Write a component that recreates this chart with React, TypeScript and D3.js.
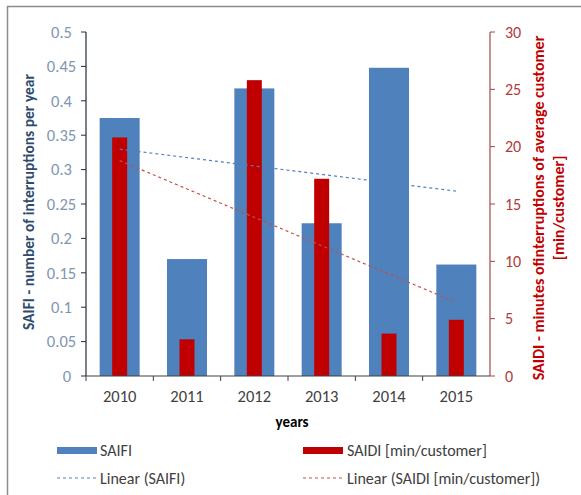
import React from "react";
import * as d3 from "d3";

const years = ["2010", "2011", "2012", "2013", "2014", "2015"];
const saifi = [0.375, 0.17, 0.418, 0.222, 0.448, 0.162];
const saidi = [20.8, 3.2, 25.8, 17.2, 3.7, 4.9];
const leftTicks = [0, 0.05, 0.1, 0.15, 0.2, 0.25, 0.3, 0.35, 0.4, 0.45, 0.5];
const rightTicks = [0, 5, 10, 15, 20, 25, 30];

const W = 581, H = 495;
const FONT = "Carlito, Calibri, Lato, 'Open Sans', sans-serif";

function linReg(vals: number[]) {
  const n = vals.length;
  const xs = vals.map((_, i) => i + 1);
  const mx = d3.mean(xs)!;
  const my = d3.mean(vals)!;
  let sxy = 0, sxx = 0;
  vals.forEach((v, i) => { sxy += (xs[i] - mx) * (v - my); sxx += (xs[i] - mx) ** 2; });
  const b = sxy / sxx;
  const a = my - b * mx;
  return [a + b * 1, a + b * n];
}

export default function App() {
  const x0 = 86, x1 = 490, yTop = 32, yBot = 376;
  const x = d3.scaleBand<string>().domain(years).range([x0, x1]);
  const yL = d3.scaleLinear().domain([0, 0.5]).range([yBot, yTop]);
  const yR = d3.scaleLinear().domain([0, 30]).range([yBot, yTop]);
  const bw = x.bandwidth();
  const cx = (y: string) => x(y)! + bw / 2;
  const blueW = 40, redW = 15;
  const tS = linReg(saifi);
  const tD = linReg(saidi);
  const xs = cx(years[0]), xe = cx(years[years.length - 1]);

  return (
    <svg width={W} height={H} style={{ position: "absolute", left: 0, top: 0, background: "#fff" }} fontFamily={FONT}>
      <rect x={0} y={0} width={W} height={H} fill="#fff" />
      <line x1={7} y1={6.5} x2={W} y2={6.5} stroke="#8c8c8c" strokeWidth={1.5} />
      <line x1={7.5} y1={6} x2={7.5} y2={H} stroke="#8c8c8c" strokeWidth={1.5} />

      {/* bars */}
      {years.map((yr, i) => (
        <rect key={"b" + yr} x={cx(yr) - blueW / 2} y={yL(saifi[i])} width={blueW} height={yBot - yL(saifi[i])} fill="#4F81BD" />
      ))}
      {years.map((yr, i) => (
        <rect key={"r" + yr} x={cx(yr) - redW / 2} y={yR(saidi[i])} width={redW} height={yBot - yR(saidi[i])} fill="#C00000" />
      ))}

      {/* trendlines */}
      <line x1={xs} y1={yL(tS[0])} x2={xe} y2={yL(tS[1])} stroke="#4F81BD" strokeWidth={1.2} strokeDasharray="3,3" />
      <line x1={xs} y1={yR(tD[0])} x2={xe} y2={yR(tD[1])} stroke="#C0504D" strokeWidth={1.2} strokeDasharray="3,3" />

      {/* left axis */}
      <line x1={x0} y1={yTop} x2={x0} y2={yBot} stroke="#1f2d3d" strokeWidth={1.2} />
      {leftTicks.map((t) => (
        <g key={"lt" + t}>
          <line x1={x0 - 5} x2={x0} y1={yL(t)} y2={yL(t)} stroke="#1f2d3d" />
          <text x={t === 0 ? 67 : 61.5} y={yL(t)} dy="0.35em" textAnchor="middle" fontSize={16.5} fill="#7F96B2">{String(t)}</text>
        </g>
      ))}

      {/* right axis */}
      <line x1={x1} y1={yTop} x2={x1} y2={yBot} stroke="#A04848" strokeWidth={1.2} />
      {rightTicks.map((t) => (
        <g key={"rt" + t}>
          <line x1={x1} x2={x1 + 5} y1={yR(t)} y2={yR(t)} stroke="#A04848" />
          <text x={505} y={yR(t)} dy="0.35em" textAnchor="start" fontSize={16} fill="#B23A3A">{String(t)}</text>
        </g>
      ))}

      {/* x axis */}
      <line x1={x0} y1={yBot} x2={x1} y2={yBot} stroke="#404040" strokeWidth={1.2} />
      {years.map((yr, i) => (
        <line key={"xt" + yr} x1={x0 + bw * i} x2={x0 + bw * i} y1={yBot} y2={yBot + 5} stroke="#404040" />
      ))}
      {years.map((yr) => (
        <text key={"xl" + yr} x={cx(yr)} y={396} dy="0.35em" textAnchor="middle" fontSize={16.5} fill="#404040">{yr}</text>
      ))}

      {/* axis titles */}
      <text x={292} y={422} dy="0.35em" textAnchor="middle" fontSize={15} fontWeight="bold" fill="#000">years</text>
      <text transform="translate(29,202) rotate(-90)" dy="0.35em" textAnchor="middle" fontSize={15.5} fontWeight="bold" fill="#2E4A6E">SAIFI - number of interruptions per year</text>
      <text transform="translate(538,208) rotate(-90)" dy="0.35em" textAnchor="middle" fontSize={16} fontWeight="bold" fill="#C00000">SAIDI - minutes ofinterruptions of average customer</text>
      <text transform="translate(558,208) rotate(-90)" dy="0.35em" textAnchor="middle" fontSize={16} fontWeight="bold" fill="#C00000">[min/customer]</text>

      {/* legend */}
      <rect x={57} y={447} width={40} height={7} fill="#4F81BD" />
      <text x={100} y={450} dy="0.35em" fontSize={16} fill="#404040">SAIFI</text>
      <line x1={57} x2={96} y1={478} y2={478} stroke="#4F81BD" strokeWidth={1.2} strokeDasharray="3,3" />
      <text x={100} y={478} dy="0.35em" fontSize={16} fill="#404040">Linear (SAIFI)</text>
      <rect x={303} y={447} width={40} height={7} fill="#C00000" />
      <text x={347} y={450} dy="0.35em" fontSize={16} fill="#404040">SAIDI [min/customer]</text>
      <line x1={303} x2={342} y1={478} y2={478} stroke="#C0504D" strokeWidth={1.2} strokeDasharray="3,3" />
      <text x={347} y={478} dy="0.35em" fontSize={16} fill="#404040">Linear (SAIDI [min/customer])</text>
    </svg>
  );
}
